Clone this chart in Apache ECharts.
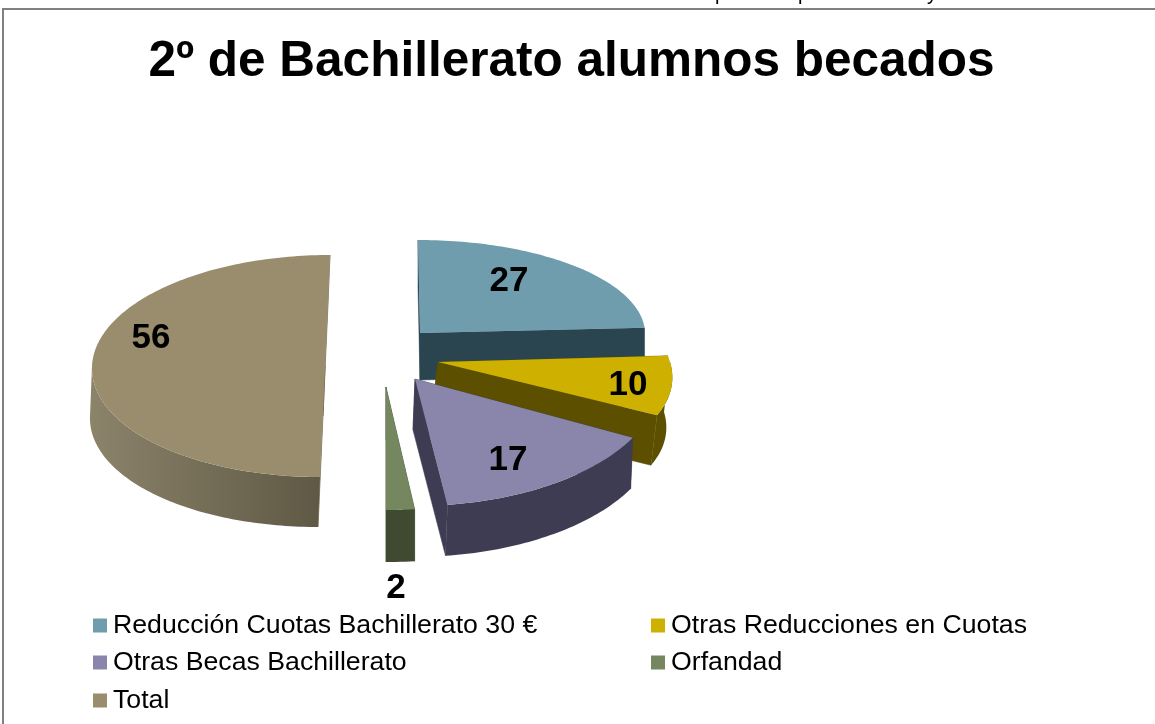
<!DOCTYPE html>
<html><head><meta charset="utf-8">
<style>html,body{margin:0;padding:0;background:#fff}#c{width:1155px;height:724px}</style>
<script src="https://cdn.jsdelivr.net/npm/echarts@6/dist/echarts.min.js"></script>
</head><body><div id="c"></div>
<script>
const titleText = '2º de Bachillerato alumnos becados';
const categories = ['Reducción Cuotas Bachillerato 30 €','Otras Reducciones en Cuotas','Otras Becas Bachillerato','Orfandad','Total'];
const values = [27,10,17,2,56];
const croppedTextAbove = [['p',715],['p',798],['y',927]];

// Layout of the tilted, exploded slices: apex, sin-axis, cos-axis, extrusion
const apexes = [[420,333],[438,362],[415,379],[386,387],[325,366]];
const sinAxes = [[225,0],[232,0],[246,-3],[256,1],[233,0]];
const cosAxes = [[2,93],[33,110],[5,127],[0,123],[-5,111]];
const extrusions = [[0,47],[-6,50],[-2,51],[0,52],[-2,50]];
const labelAnchors = [[509,281],[628,385],[508,460],[396,588],[151,338]];
const topColors = ['#6f9dae','#cdb000','#8a85aa','#74875f','#998d6e'];
const sideColors = ['#2a4550','#5c4f00','#3e3c52','#404a30','#6f664e'];
const legendSpots = [[93,610],[651,610],[93,647],[651,647],[93,685]];

const total = values.reduce((a,b)=>a+b,0);
const startAngles = values.map((_,i)=>values.slice(0,i).reduce((a,b)=>a+b,0)/total*Math.PI*2);

function pt(i,t,ex){
  const a=apexes[i],u=sinAxes[i],v=cosAxes[i],s=Math.sin(t),c=-Math.cos(t);
  return [a[0]+u[0]*s+v[0]*c+(ex?extrusions[i][0]:0),a[1]+u[1]*s+v[1]*c+(ex?extrusions[i][1]:0)];
}
function arc(i,t0,t1,ex){
  const n=Math.max(2,Math.ceil((t1-t0)/0.02)),out=[];
  for(let k=0;k<=n;k++)out.push(pt(i,t0+(t1-t0)*k/n,ex));
  return out;
}
function shift(p,i){return [p[0]+extrusions[i][0],p[1]+extrusions[i][1]];}

function renderSlice(i){
  return function(params,api){
    const v=api.value(0), t0=startAngles[i], t1=t0+v/total*Math.PI*2;
    const a=apexes[i], color=api.visual('color'), side=sideColors[i];
    const face=(p)=>({type:'polygon',shape:{points:[a,p,shift(p,i),shift(a,i)]},style:{fill:side,stroke:side,lineWidth:0.5}});
    const vis0=Math.max(t0,Math.PI/2), vis1=Math.min(t1,Math.PI*1.5);
    const kids=[face(pt(i,t0)),face(pt(i,t1))];
    if(vis1>vis0){
      const top=arc(i,vis0,vis1,false), low=arc(i,vis0,vis1,true).reverse();
      const fill = i===4 ? {type:'linear',x:0,y:0,x2:1,y2:0,colorStops:[{offset:0,color:'#8b836a'},{offset:1,color:'#5f5844'}]} : side;
      kids.push({type:'polygon',shape:{points:top.concat(low)},style:{fill,stroke:null}});
    }
    kids.push({type:'polygon',shape:{points:[a].concat(arc(i,t0,t1,false))},style:{fill:color}});
    kids.push({type:'text',x:labelAnchors[i][0],y:labelAnchors[i][1],z2:50,style:{text:String(v),fill:'#000',font:'bold 35px "Liberation Sans",Arial,sans-serif',textAlign:'center',textVerticalAlign:'middle'}});
    return {type:'group',children:kids};
  };
}

const chart=echarts.init(document.getElementById('c'),null,{renderer:'canvas'});
chart.setOption({
  animation:false,
  backgroundColor:'#fff',
  title:{text:titleText,left:566.5,top:32,textAlign:'center',textStyle:{fontFamily:'"Liberation Sans",Arial,sans-serif',fontWeight:'bold',fontSize:49.5,color:'#000'}},
  legend:categories.map((c,i)=>({
    data:[c],left:legendSpots[i][0],top:legendSpots[i][1],padding:0,icon:'rect',itemWidth:14,itemHeight:14,selectedMode:false,
    textStyle:{fontFamily:'"Liberation Sans",Arial,sans-serif',fontSize:26.7,color:'#000',lineHeight:28,padding:[3,0,0,1]}
  })),
  graphic:[{type:'polyline',silent:true,shape:{points:[[3,724],[3,9],[1155,9]]},style:{stroke:'#808080',lineWidth:2,fill:null}}].concat(
    croppedTextAbove.map(([ch,x])=>({type:'text',silent:true,x,y:4,style:{text:ch,fill:'#000',font:'20px "Liberation Sans",Arial,sans-serif',textAlign:'left',textVerticalAlign:'bottom'}}))
  ),
  series:categories.map((c,i)=>({
    type:'custom',name:c,coordinateSystem:'none',silent:true,
    itemStyle:{color:topColors[i]},
    renderItem:renderSlice(i),
    data:[[values[i]]]
  }))
});
</script></body></html>
